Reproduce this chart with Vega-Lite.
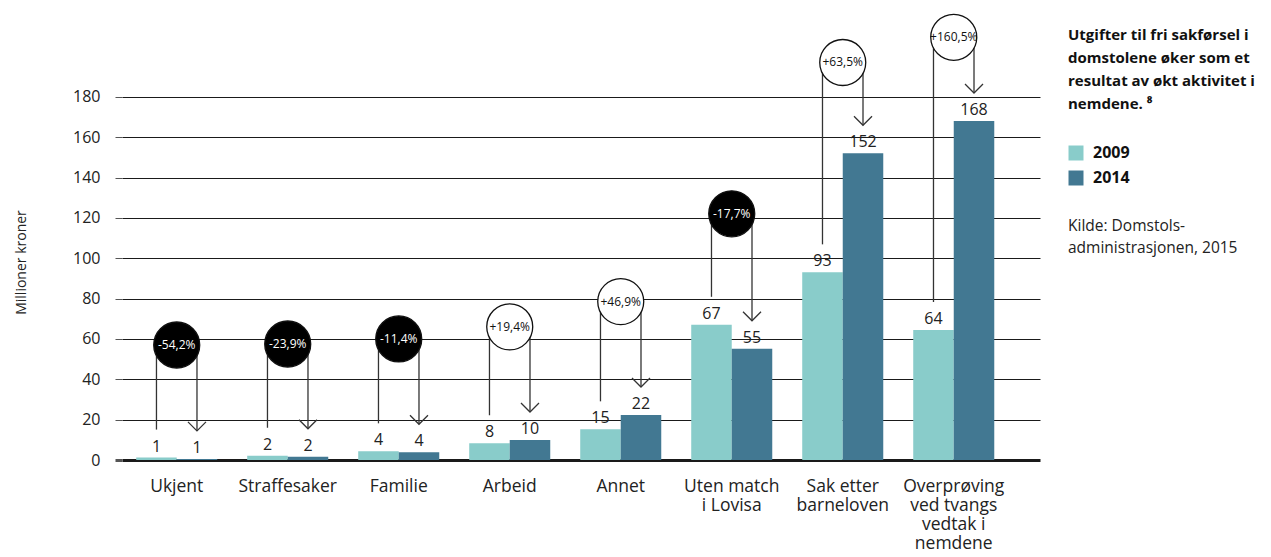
{
  "$schema": "https://vega.github.io/schema/vega-lite/v6.json",
  "width": 918,
  "height": 454,
  "autosize": {"type": "none"},
  "padding": {"left": 122, "top": 6, "right": 231, "bottom": 97},
  "config": {"font": "Open Sans", "view": {"stroke": null}},
  "title": {
    "text": ["Utgifter til fri sakførsel i", "domstolene øker som et", "resultat av økt aktivitet i", "nemdene. ⁸"],
    "orient": "top", "anchor": "start", "frame": "group", "offset": 0,
    "dx": 946, "dy": 106, "baseline": "top",
    "fontSize": 15, "fontWeight": "bold", "color": "#111", "lineHeight": 23
  },
  "data": {
    "values": [
      {"kategori": "Ukjent", "aar": "2009", "verdi": 1.2, "endring": "-54,2%", "niva": 57},
      {"kategori": "Ukjent", "aar": "2014", "verdi": 0.55, "endring": "-54,2%", "niva": 57},
      {"kategori": "Straffesaker", "aar": "2009", "verdi": 2.1, "endring": "-23,9%", "niva": 57.5},
      {"kategori": "Straffesaker", "aar": "2014", "verdi": 1.6, "endring": "-23,9%", "niva": 57.5},
      {"kategori": "Familie", "aar": "2009", "verdi": 4.3, "endring": "-11,4%", "niva": 60},
      {"kategori": "Familie", "aar": "2014", "verdi": 3.8, "endring": "-11,4%", "niva": 60},
      {"kategori": "Arbeid", "aar": "2009", "verdi": 8.3, "endring": "+19,4%", "niva": 66},
      {"kategori": "Arbeid", "aar": "2014", "verdi": 9.9, "endring": "+19,4%", "niva": 66},
      {"kategori": "Annet", "aar": "2009", "verdi": 15.2, "endring": "+46,9%", "niva": 78.5},
      {"kategori": "Annet", "aar": "2014", "verdi": 22.3, "endring": "+46,9%", "niva": 78.5},
      {"kategori": "Uten match i Lovisa", "aar": "2009", "verdi": 67, "endring": "-17,7%", "niva": 122},
      {"kategori": "Uten match i Lovisa", "aar": "2014", "verdi": 55.1, "endring": "-17,7%", "niva": 122},
      {"kategori": "Sak etter barneloven", "aar": "2009", "verdi": 93, "endring": "+63,5%", "niva": 197},
      {"kategori": "Sak etter barneloven", "aar": "2014", "verdi": 152, "endring": "+63,5%", "niva": 197},
      {"kategori": "Overprøving ved tvangs vedtak i nemdene", "aar": "2009", "verdi": 64.4, "endring": "+160,5%", "niva": 209.5},
      {"kategori": "Overprøving ved tvangs vedtak i nemdene", "aar": "2014", "verdi": 168, "endring": "+160,5%", "niva": 209.5}
    ]
  },
  "encoding": {
    "x": {
      "field": "kategori", "type": "nominal", "sort": null,
      "scale": {"paddingInner": 0.27, "paddingOuter": 0.27, "align": 0.237},
      "axis": {
        "title": null, "ticks": false, "tickSize": 0, "domain": false, "labelAngle": 0,
        "labelPadding": 17, "labelFontSize": 17.5, "labelColor": "#222", "labelLineHeight": 19,
        "labelExpr": "datum.label == 'Uten match i Lovisa' ? ['Uten match','i Lovisa'] : datum.label == 'Sak etter barneloven' ? ['Sak etter','barneloven'] : datum.label == 'Overprøving ved tvangs vedtak i nemdene' ? ['Overprøving','ved tvangs','vedtak i','nemdene'] : datum.label"
      }
    },
    "y": {
      "field": "verdi", "type": "quantitative",
      "scale": {"domain": [0, 225], "nice": false},
      "axis": {
        "title": "Millioner kroner", "titleFontSize": 14, "titleFontWeight": "normal", "titleColor": "#222", "titlePadding": 44,
        "titleY": 256,
        "values": [0, 20, 40, 60, 80, 100, 120, 140, 160, 180],
        "domain": false, "grid": true, "gridColor": "#1a1a1a",
        "gridWidth": {"condition": {"test": "datum.value === 0", "value": 3}, "value": 1},
        "tickSize": 7, "tickColor": "#555",
        "tickWidth": {"condition": {"test": "datum.value === 0", "value": 3}, "value": 1},
        "labelPadding": 15, "labelFontSize": 16, "labelColor": "#222"
      }
    }
  },
  "layer": [
    {
      "mark": {"type": "bar"},
      "encoding": {
        "xOffset": {"field": "aar", "type": "nominal", "scale": {"paddingInner": 0, "paddingOuter": 0}},
        "color": {
          "field": "aar", "type": "nominal",
          "scale": {"domain": ["2009", "2014"], "range": ["#89CCCA", "#427892"]},
          "legend": {
            "orient": "none", "legendX": 946, "legendY": 139, "padding": 0,
            "symbolType": "square", "symbolSize": 225, "symbolStrokeWidth": 0, "symbolOpacity": 1,
            "labelFontSize": 16, "labelFontWeight": "bold", "labelColor": "#111", "labelOffset": 9,
            "rowPadding": 9,
            "title": ["Kilde: Domstols-", "administrasjonen, 2015"],
            "titleOrient": "bottom", "titleAnchor": "start", "titleAlign": "left",
            "titleFontSize": 15.5, "titleFontWeight": "normal", "titleColor": "#222",
            "titlePadding": 33, "titleLineHeight": 22, "titleLimit": 300
          }
        }
      }
    },
    {
      "mark": {"type": "text", "baseline": "alphabetic", "dy": -6, "fontSize": 16, "color": "#222"},
      "encoding": {
        "xOffset": {"field": "aar", "type": "nominal"},
        "text": {"field": "verdi", "type": "quantitative", "format": ".0f"}
      }
    },
    {
      "mark": {"type": "rule", "yOffset": -28, "color": "#333", "strokeWidth": 1.3},
      "encoding": {
        "xOffset": {"field": "aar", "type": "nominal"},
        "y2": {"field": "niva"}
      }
    },
    {
      "transform": [{"filter": "datum.aar === '2014'"}],
      "mark": {"type": "point", "shape": "M-1,-1L0,0L1,-1", "filled": false, "size": 324, "stroke": "#333", "strokeWidth": 1.3, "opacity": 1, "yOffset": -28},
      "encoding": {
        "xOffset": {"field": "aar", "type": "nominal"}
      }
    },
    {
      "transform": [{"filter": "datum.aar === '2009'"}],
      "mark": {"type": "point", "shape": "circle", "filled": true, "size": 2116, "stroke": "#111", "strokeWidth": 1.3, "opacity": 1},
      "encoding": {
        "y": {"field": "niva", "type": "quantitative", "axis": {"title": "Millioner kroner"}},
        "fill": {"condition": {"test": "indexof(datum.endring, '-') === 0", "value": "#000000"}, "value": "#ffffff"}
      }
    },
    {
      "transform": [{"filter": "datum.aar === '2009'"}],
      "mark": {"type": "text", "fontSize": 12, "baseline": "middle", "align": "center"},
      "encoding": {
        "y": {"field": "niva", "type": "quantitative", "axis": {"title": "Millioner kroner"}},
        "text": {"field": "endring", "type": "nominal"},
        "color": {"condition": {"test": "indexof(datum.endring, '-') === 0", "value": "#ffffff"}, "value": "#111111"}
      }
    }
  ]
}
